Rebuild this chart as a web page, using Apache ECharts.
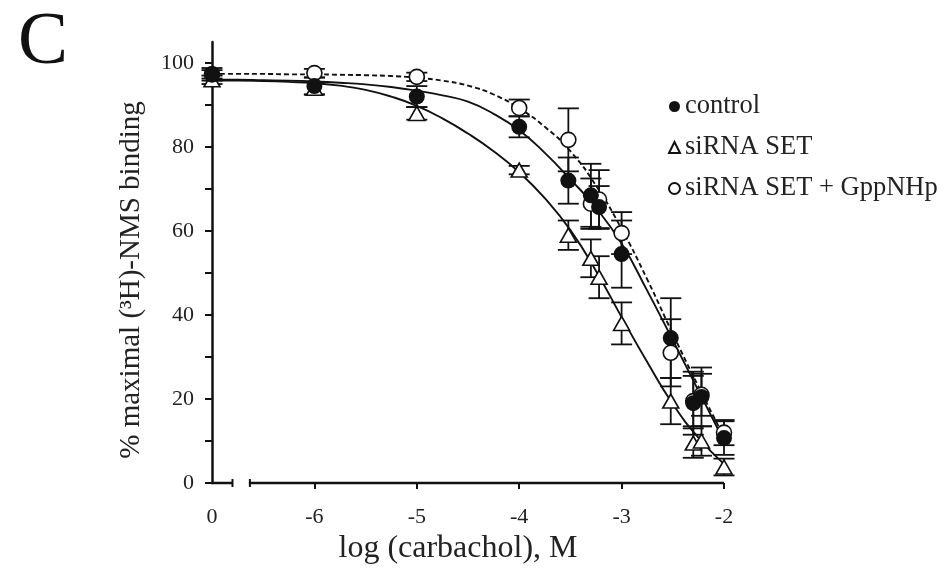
<!DOCTYPE html>
<html>
<head>
<meta charset="utf-8">
<script src="https://cdn.jsdelivr.net/npm/echarts@6/dist/echarts.min.js"></script>
<style>
  html, body { margin: 0; padding: 0; background: #fff; }
  #chart { width: 949px; height: 572px; }
</style>
</head>
<body>
<div id="chart"></div>
<script>
// log[carbachol] positions; -7 stands for the no-agonist point, labelled "0"
const doses = [-7, -6, -5, -4, -3.52, -3.3, -3.22, -3, -2.52, -2.3, -2.22, -2];

const controlMean  = [97.3, 94.5, 92.0, 84.8, 72.0, 68.5, 65.7, 54.5, 34.5, 19.0, 20.5, 10.7];
const controlSem   = [1.5, 2.0, 2.5, 2.5, 5.5, 7.5, 5.0, 8.0, 9.5, 7.5, 7.0, 4.0];

const sirnaMean    = [96.0, 94.0, 88.0, 74.5, 59.0, 53.5, 49.0, 38.0, 19.5, 9.5, 10.0, 3.8];
const sirnaSem     = [1.0, 1.5, 1.5, 1.0, 3.5, 4.5, 5.0, 5.0, 5.5, 3.5, 3.5, 2.0];

const gppMean      = [97.3, 97.6, 96.7, 89.3, 81.7, 66.5, 67.5, 59.5, 31.0, 19.5, 21.0, 12.0];
const gppSem       = [1.0, 1.0, 1.0, 2.0, 7.5, 6.0, 7.0, 5.0, 8.0, 6.0, 5.0, 3.0];

// fitted competition curves, sampled every quarter log unit
const fitDoses     = [-7, -6.75, -6.5, -6.25, -6, -5.75, -5.5, -5.25, -5, -4.75, -4.5,
                      -4.25, -4, -3.75, -3.5, -3.25, -3, -2.75, -2.5, -2.25, -2];
const controlFit   = [96.0, 96.0, 95.9, 95.8, 95.6, 95.3, 94.9, 94.3, 93.4, 92.3, 90.8,
                      87.9, 84.0, 78.6, 72.3, 65.5, 57.0, 45.8, 34.0, 22.0, 10.0];
const sirnaFit     = [95.8, 95.8, 95.7, 95.5, 95.2, 94.6, 93.6, 92.0, 89.8, 86.8, 83.2,
                      79.0, 74.0, 67.8, 60.2, 50.5, 39.5, 28.8, 18.8, 10.8, 4.5];
const gppFit       = [97.4, 97.4, 97.4, 97.3, 97.3, 97.2, 97.1, 96.9, 96.5, 95.8, 94.6,
                      92.5, 89.2, 84.8, 79.0, 70.8, 60.5, 48.5, 35.5, 23.0, 11.0];

// axis labels
const xTickValues  = [-7, -6, -5, -4, -3, -2];
const xTickText    = ['0', '-6', '-5', '-4', '-3', '-2'];
const yTicks       = [0, 10, 20, 30, 40, 50, 60, 70, 80, 90, 100];
const yLabels      = [0, 20, 40, 60, 80, 100];

// where the dose axis is interrupted between "0" and -6
const axisBreak = { from: -6.8, to: -6.63 };

const serif = '"Liberation Serif", "DejaVu Serif", serif';
const ink = '#111';
const textInk = '#222';

const pairs = (xs, ys) => xs.map((x, i) => [x, ys[i]]);
const triples = (xs, ys, es) => xs.map((x, i) => [x, ys[i], es[i]]);

function errorBars(id, means, sems) {
  return {
    type: 'custom',
    name: id + ' sem',
    z: 3,
    clip: false,
    silent: true,
    data: triples(doses, means, sems),
    renderItem: function (params, api) {
      const x = api.value(0), y = api.value(1), e = api.value(2);
      const top = api.coord([x, y + e]);
      const bot = api.coord([x, y - e]);
      const hw = 10.5;
      const st = { stroke: ink, lineWidth: 1.8 };
      return {
        type: 'group',
        children: [
          { type: 'line', shape: { x1: top[0], y1: top[1], x2: bot[0], y2: bot[1] }, style: st },
          { type: 'line', shape: { x1: top[0] - hw, y1: top[1], x2: top[0] + hw, y2: top[1] }, style: st },
          { type: 'line', shape: { x1: bot[0] - hw, y1: bot[1], x2: bot[0] + hw, y2: bot[1] }, style: st }
        ]
      };
    }
  };
}

function fitLine(id, ys, dashed) {
  return {
    type: 'line',
    name: id + ' fit',
    data: pairs(fitDoses, ys),
    smooth: 0.5,
    showSymbol: false,
    silent: true,
    z: 2,
    lineStyle: { color: ink, width: 1.9, type: dashed ? [5, 3] : 'solid' }
  };
}

const chart = echarts.init(document.getElementById('chart'), null, { renderer: 'canvas' });

chart.setOption({
  backgroundColor: '#fff',
  animation: false,
  grid: { left: 212, right: 225, top: 42, bottom: 89, containLabel: false },
  xAxis: {
    type: 'value',
    min: -7,
    max: -2,
    axisLine: { show: false },
    splitLine: { show: false },
    axisTick: {
      show: true, length: 6, inside: false,
      customValues: [-6, -5, -4, -3, -2],
      lineStyle: { color: ink, width: 2 }
    },
    axisLabel: {
      customValues: xTickValues,
      formatter: v => xTickText[xTickValues.indexOf(v)],
      margin: 23,
      color: textInk,
      fontFamily: serif,
      fontSize: 22
    },
    name: 'log (carbachol), M',
    nameLocation: 'middle',
    nameGap: 50,
    nameTextStyle: { color: textInk, fontFamily: serif, fontSize: 32, padding: [0, 20, 0, 0] }
  },
  yAxis: {
    type: 'value',
    min: 0,
    max: 105,
    axisLine: { show: true, lineStyle: { color: ink, width: 2.5 } },
    splitLine: { show: false },
    axisTick: {
      show: true, length: 7, inside: false,
      customValues: yTicks,
      lineStyle: { color: ink, width: 2 }
    },
    axisLabel: {
      customValues: yLabels,
      margin: 18,
      color: textInk,
      fontFamily: serif,
      fontSize: 22
    }
  },
  legend: {
    orient: 'vertical',
    left: 663,
    top: 88,
    itemGap: 14,
    itemWidth: 11,
    itemHeight: 11,
    data: ['control', 'siRNA SET', 'siRNA SET + GppNHp'],
    textStyle: { color: textInk, fontFamily: serif, fontSize: 26.5 }
  },
  graphic: [
    {
      type: 'text', left: 18, top: 6,
      style: { text: 'C', font: '75px "Liberation Serif", serif', fill: '#111' }
    },
    {
      type: 'text', x: 131, y: 280, rotation: Math.PI / 2,
      style: {
        text: '% maximal (³H)-NMS binding',
        font: '29px "Liberation Serif", serif',
        fill: textInk, align: 'center', verticalAlign: 'middle'
      }
    }
  ],
  series: [
    // dose axis drawn in two pieces around the break
    {
      type: 'custom',
      name: 'dose axis',
      clip: false,
      silent: true,
      z: 1,
      data: [[-7, axisBreak.from, 1], [axisBreak.to, -2, 0]],
      renderItem: function (params, api) {
        const a = api.coord([api.value(0), 0]);
        const b = api.coord([api.value(1), 0]);
        const tickX = api.value(2) === 1 ? b[0] : a[0];
        return {
          type: 'group',
          children: [
            { type: 'line', shape: { x1: a[0] - 1, y1: a[1], x2: b[0], y2: b[1] }, style: { stroke: ink, lineWidth: 2.5 } },
            { type: 'line', shape: { x1: tickX, y1: a[1] - 4, x2: tickX, y2: a[1] + 4 }, style: { stroke: ink, lineWidth: 2 } }
          ]
        };
      }
    },
    fitLine('control', controlFit, false),
    fitLine('siRNA', sirnaFit, false),
    fitLine('gpp', gppFit, true),
    errorBars('siRNA', sirnaMean, sirnaSem),
    errorBars('gpp', gppMean, gppSem),
    errorBars('control', controlMean, controlSem),
    {
      type: 'scatter',
      name: 'siRNA SET',
      data: pairs(doses, sirnaMean),
      symbol: 'triangle',
      symbolSize: [16, 14],
      z: 4,
      itemStyle: { color: '#fff', borderColor: ink, borderWidth: 1.6, opacity: 1 }
    },
    {
      type: 'scatter',
      name: 'siRNA SET + GppNHp',
      data: pairs(doses, gppMean),
      symbol: 'circle',
      symbolSize: 15,
      z: 5,
      itemStyle: { color: '#fff', borderColor: ink, borderWidth: 1.6, opacity: 1 }
    },
    {
      type: 'scatter',
      name: 'control',
      data: pairs(doses, controlMean),
      symbol: 'circle',
      symbolSize: 16,
      z: 6,
      itemStyle: { color: ink, opacity: 1 }
    }
  ]
});
</script>
</body>
</html>
